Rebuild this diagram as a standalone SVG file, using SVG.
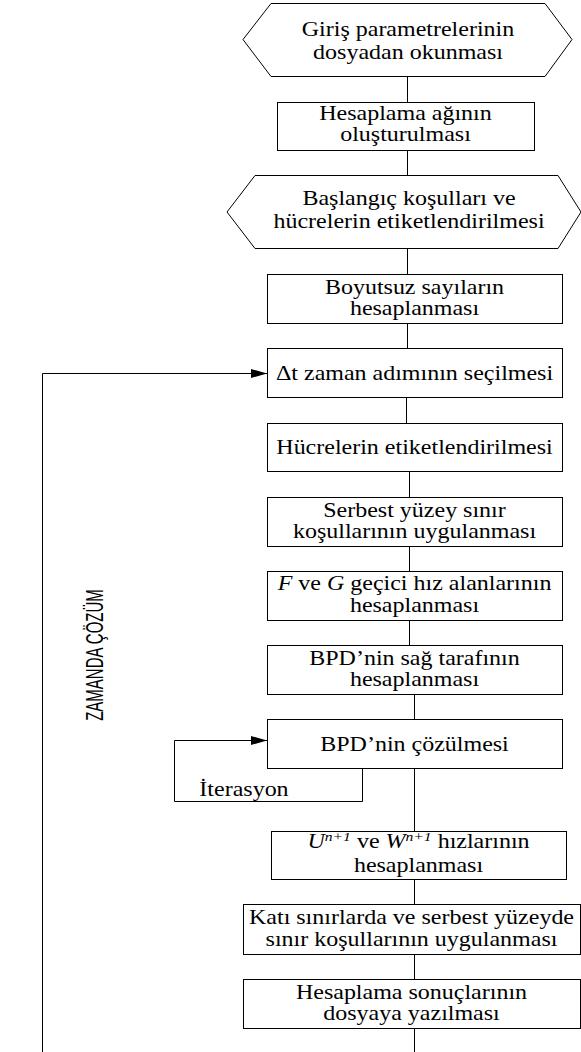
<svg xmlns="http://www.w3.org/2000/svg" width="581" height="1052" viewBox="0 0 581 1052">
<defs>
<style>
.b{fill:#fff;stroke:#000;stroke-width:1}
.c{fill:none;stroke:#000;stroke-width:1}
.t{font-family:"Liberation Serif","Times New Roman",serif;font-size:20px;fill:#000;text-anchor:middle}
.i{font-style:italic}
.s{font-size:13px;font-style:italic}
.z{font-family:"Liberation Sans",Arial,sans-serif;font-size:15px;fill:#000;text-anchor:middle}
</style>
<marker id="ah" markerUnits="userSpaceOnUse" markerWidth="16" markerHeight="10" refX="16" refY="5" orient="auto"><path d="M0,0.5 L16,5 L0,9.5 Z" fill="#000"/></marker>
</defs>
<rect width="581" height="1052" fill="#fff"/>
<g id="connectors">
<line class="c" x1="407.5" y1="76" x2="407.5" y2="102"/>
<line class="c" x1="407.5" y1="150" x2="407.5" y2="175"/>
<line class="c" x1="407.5" y1="248" x2="407.5" y2="274"/>
<line class="c" x1="407.5" y1="323" x2="407.5" y2="348"/>
<line class="c" x1="406.5" y1="397" x2="406.5" y2="423"/>
<line class="c" x1="409.5" y1="471" x2="409.5" y2="497"/>
<line class="c" x1="409.5" y1="546" x2="409.5" y2="571"/>
<line class="c" x1="409.5" y1="620" x2="409.5" y2="645"/>
<line class="c" x1="414.5" y1="694" x2="414.5" y2="719"/>
<line class="c" x1="414.5" y1="768" x2="414.5" y2="831"/>
<line class="c" x1="414.5" y1="879" x2="414.5" y2="904"/>
<line class="c" x1="414.5" y1="954" x2="414.5" y2="979"/>
<line class="c" x1="414.5" y1="1028" x2="414.5" y2="1052"/>
<polyline class="c" points="362.5,768 362.5,801.5 174.5,801.5 174.5,740.5 267,740.5" marker-end="url(#ah)"/>
<polyline class="c" points="42.5,1052 42.5,373.5 267,373.5" marker-end="url(#ah)"/>
</g>
<g id="n1"><polygon class="b" points="243,39.5 271,3.5 545,3.5 572,39.5 545,76.5 271,76.5"/><text class="t" transform="translate(408,0) scale(1.2,1)"><tspan x="0" y="36">Giriş parametrelerinin</tspan><tspan x="0" y="59">dosyadan okunması</tspan></text></g>
<g id="n2"><rect class="b" x="277.5" y="102.5" width="257" height="48"/><text class="t" transform="translate(405.5,0) scale(1.2,1)"><tspan x="0" y="120">Hesaplama ağının</tspan><tspan x="0" y="141">oluşturulması</tspan></text></g>
<g id="n3"><polygon class="b" points="227,212 255,175.5 558,175.5 581,212 558,248.5 255,248.5"/><text class="t" transform="translate(409,0) scale(1.2,1)"><tspan x="0" y="205">Başlangıç koşulları ve</tspan><tspan x="0" y="228">hücrelerin etiketlendirilmesi</tspan></text></g>
<g id="n4"><rect class="b" x="267.5" y="274.5" width="295" height="49"/><text class="t" transform="translate(414.5,0) scale(1.2,1)"><tspan x="0" y="294">Boyutsuz sayıların</tspan><tspan x="0" y="315">hesaplanması</tspan></text></g>
<g id="n5"><rect class="b" x="267.5" y="348.5" width="295" height="49"/><text class="t" transform="translate(414.5,0) scale(1.2,1)"><tspan x="0" y="380">Δt zaman adımının seçilmesi</tspan></text></g>
<g id="n6"><rect class="b" x="267.5" y="423.5" width="295" height="48"/><text class="t" transform="translate(414.5,0) scale(1.2,1)"><tspan x="0" y="454">Hücrelerin etiketlendirilmesi</tspan></text></g>
<g id="n7"><rect class="b" x="267.5" y="497.5" width="295" height="49"/><text class="t" transform="translate(414.5,0) scale(1.2,1)"><tspan x="0" y="517">Serbest yüzey sınır</tspan><tspan x="0" y="538">koşullarının uygulanması</tspan></text></g>
<g id="n8"><rect class="b" x="267.5" y="571.5" width="295" height="49"/><text class="t" transform="translate(414.5,0) scale(1.2,1)"><tspan x="0" y="590"><tspan class="i">F</tspan> ve <tspan class="i">G</tspan> geçici hız alanlarının</tspan><tspan x="0" y="612">hesaplanması</tspan></text></g>
<g id="n9"><rect class="b" x="267.5" y="645.5" width="295" height="49"/><text class="t" transform="translate(414.5,0) scale(1.2,1)"><tspan x="0" y="665">BPD’nin sağ tarafının</tspan><tspan x="0" y="686">hesaplanması</tspan></text></g>
<g id="n10"><rect class="b" x="267.5" y="719.5" width="295" height="49"/><text class="t" transform="translate(414.5,0) scale(1.2,1)"><tspan x="0" y="751">BPD’nin çözülmesi</tspan></text></g>
<g id="l1"><text class="t" transform="translate(244,0) scale(1.2,1)"><tspan x="0" y="796">İterasyon</tspan></text></g>
<g id="n11"><rect class="b" x="271.5" y="831.5" width="295" height="48"/><text class="t" transform="translate(418.5,0) scale(1.2,1)"><tspan x="0" y="848"><tspan class="i">U</tspan><tspan class="s" dy="-7">n+1</tspan><tspan dy="7"> ve </tspan><tspan class="i">W</tspan><tspan class="s" dy="-7">n+1</tspan><tspan dy="7"> hızlarının</tspan></tspan><tspan x="0" y="872">hesaplanması</tspan></text></g>
<g id="n12"><rect class="b" x="243.5" y="904.5" width="337" height="50"/><text class="t" transform="translate(411.5,0) scale(1.2,1)"><tspan x="0" y="924">Katı sınırlarda ve serbest yüzeyde</tspan><tspan x="0" y="946">sınır koşullarının uygulanması</tspan></text></g>
<g id="n13"><rect class="b" x="243.5" y="979.5" width="337" height="49"/><text class="t" transform="translate(411.5,0) scale(1.2,1)"><tspan x="0" y="999">Hesaplama sonuçlarının</tspan><tspan x="0" y="1020">dosyaya yazılması</tspan></text></g>
<g id="l2"><text class="z" transform="translate(103,655) scale(1.6,1) rotate(-90)">ZAMANDA ÇÖZÜM</text></g>
</svg>
